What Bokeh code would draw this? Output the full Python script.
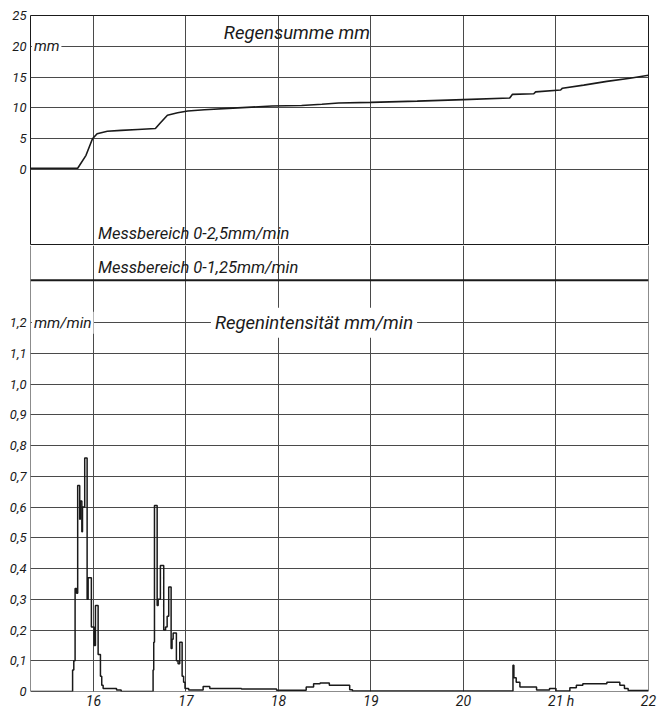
from bokeh.plotting import figure
from bokeh.layouts import column
from bokeh.models import Range1d, FixedTicker, Span, Label, CustomJSTickFormatter
from bokeh.embed import file_html
from bokeh.resources import INLINE

# ---- data ----
hours = [16, 17, 18, 19, 20, 21, 22]
hour_labels = {21: "\u00a0\u00a0\u00a021 h"}

sum_ticks = [0, 5, 10, 15, 20, 25]
sum_time = [15.32, 15.83, 15.92, 15.99, 16.04, 16.15, 16.30, 16.48, 16.67, 16.72, 16.80,
            16.91, 17.02, 17.20, 17.56, 17.93, 18.25, 18.47, 18.65, 19.0, 19.5, 20.0,
            20.5, 20.53, 20.76, 20.78, 21.05, 21.07, 21.3, 21.55, 21.8, 22.0]
sum_mm = [0.2, 0.2, 2.3, 5.0, 5.8, 6.2, 6.35, 6.5, 6.65, 7.5, 8.8,
          9.2, 9.5, 9.7, 10.0, 10.3, 10.4, 10.6, 10.8, 10.9, 11.1, 11.35,
          11.6, 12.2, 12.3, 12.6, 12.9, 13.2, 13.7, 14.3, 14.8, 15.3]

int_ticks = [0, 0.1, 0.2, 0.3, 0.4, 0.5, 0.6, 0.7, 0.8, 0.9, 1.0, 1.1, 1.2]
int_time = [15.32, 15.775, 15.788, 15.802, 15.818, 15.83, 15.852, 15.858, 15.875, 15.882,
            15.906, 15.932, 15.943, 15.978, 16.007, 16.022, 16.051, 16.076, 16.09, 16.105,
            16.25, 16.30,
            16.645, 16.652, 16.66, 16.689, 16.70, 16.724, 16.76, 16.78, 16.797, 16.814,
            16.84, 16.85, 16.862, 16.897, 16.915, 16.933, 16.959, 16.975, 16.99, 17.03,
            17.186, 17.258, 17.6, 17.98, 18.30, 18.38, 18.45, 18.55, 18.77, 18.80,
            20.535, 20.545, 20.57, 20.61, 20.79, 20.93, 21.0, 21.15, 21.22, 21.29, 21.55,
            21.69, 21.74, 21.78, 22.0]
int_val = [0.0, 0.07, 0.10, 0.335, 0.32, 0.67, 0.56, 0.62, 0.52, 0.60,
           0.76, 0.30, 0.37, 0.21, 0.15, 0.28, 0.12, 0.05, 0.02, 0.01,
           0.005, 0.0,
           0.07, 0.16, 0.605, 0.28, 0.30, 0.41, 0.20, 0.21, 0.245, 0.34,
           0.14, 0.17, 0.19, 0.10, 0.09, 0.16, 0.05, 0.03, 0.01, 0.005,
           0.016, 0.01, 0.008, 0.004, 0.015, 0.025, 0.028, 0.02, 0.006, 0.002,
           0.085, 0.045, 0.03, 0.015, 0.005, 0.01, 0.002, 0.012, 0.02, 0.025, 0.03,
           0.02, 0.01, 0.003, 0.003]

FONT = "Roboto"
INK = "#1a1a1a"
GRID = "#4a4a4a"
X0, X1 = 15.32, 22.0

xr = Range1d(X0, X1)


def style(p):
    p.background_fill_color = "white"
    p.border_fill_color = "white"
    for ax in p.axis:
        ax.axis_line_color = None
        ax.major_tick_line_color = None
        ax.minor_tick_line_color = None
        ax.major_tick_out = 0
        ax.major_tick_in = 0
        ax.minor_tick_out = 0
        ax.minor_tick_in = 0
        ax.major_label_text_font = FONT
        ax.major_label_text_font_style = "italic"
        ax.major_label_text_color = INK
        ax.major_label_standoff = 4
    p.xgrid.ticker = FixedTicker(ticks=hours[:-1])
    for g in p.grid:
        g.grid_line_color = GRID
        g.grid_line_width = 1


def note(p, x, y, text, size, baseline="middle", bg=None, pad=0):
    p.add_layout(Label(x=x, y=y, text=text, text_font=FONT, text_font_style="italic",
                       text_font_size=size, text_color=INK, text_baseline=baseline,
                       background_fill_color=bg, padding=pad))


# ---- top panel: Regensumme ----
p1 = figure(width=658, height=245, x_range=xr, y_range=Range1d(-12.34, 25),
            output_backend="svg", toolbar_location=None,
            min_border_left=30, min_border_right=10, min_border_top=15, min_border_bottom=0)
style(p1)
p1.outline_line_color = INK
p1.outline_line_width = 1
p1.xaxis.visible = False
p1.yaxis.ticker = FixedTicker(ticks=sum_ticks)
p1.yaxis.major_label_text_font_size = "13px"
p1.ygrid.ticker = FixedTicker(ticks=sum_ticks[:-1])
p1.line(sum_time, sum_mm, line_width=1.6, color=INK)

note(p1, 17.41, 22.2, "Regensumme  mm", "18.5px")
note(p1, 15.335, 20, "mm", "15px", bg="white", pad=2)
note(p1, 16.05, -12.0, "Messbereich 0-2,5mm/min", "16.5px", baseline="bottom")

# ---- bottom panel: Regenintensität ----
p2 = figure(width=658, height=466, x_range=xr, y_range=Range1d(0, 1.451),
            output_backend="svg", toolbar_location=None,
            min_border_left=30, min_border_right=10, min_border_top=0, min_border_bottom=15)
style(p2)
p2.outline_line_color = None
p2.xaxis.ticker = FixedTicker(ticks=hours)
p2.xaxis.major_label_overrides = hour_labels
p2.xaxis.major_label_text_font_size = "14px"
p2.xaxis.major_label_standoff = 1
p2.yaxis.ticker = FixedTicker(ticks=int_ticks)
p2.yaxis.formatter = CustomJSTickFormatter(
    code="return tick === 0 ? '0' : tick.toFixed(1).replace('.', ',');")
p2.yaxis.major_label_text_font_size = "13px"
p2.ygrid.ticker = FixedTicker(ticks=int_ticks[1:])
p2.step(int_time, int_val, mode="after", line_width=1.5, color=INK)

# frame edges of the lower panel (top edge is shared with the upper panel)
for loc, dim in ((X0, "height"), (X1, "height"), (0, "width")):
    p2.add_layout(Span(location=loc, dimension=dim, line_color=INK, line_width=1))
p2.add_layout(Span(location=1.338, dimension="width", line_color=INK, line_width=2))
note(p2, 16.05, 1.348, "Messbereich 0-1,25mm/min", "16.5px", baseline="bottom")
note(p2, 17.27, 1.2, "Regenintensität mm/min", "18.5px", bg="white", pad=4)
note(p2, 15.335, 1.2, "mm/min", "15.5px", bg="white", pad=2)

layout = column(p1, p2, spacing=0)
open("out.html", "w").write(file_html(layout, INLINE))
